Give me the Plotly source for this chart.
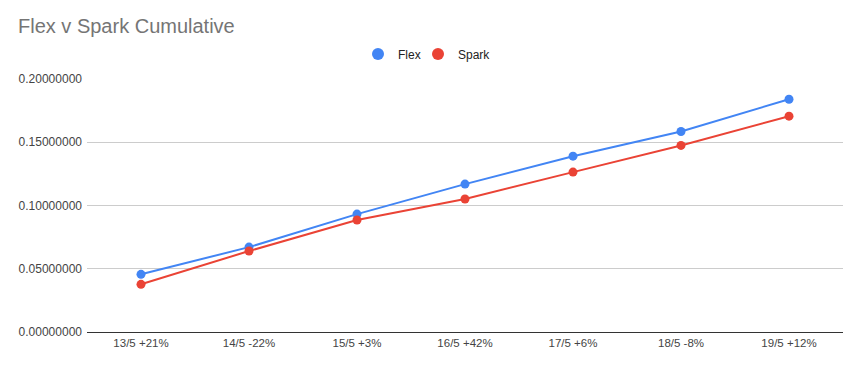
import plotly.graph_objects as go

categories = ["13/5 +21%", "14/5 -22%", "15/5 +3%", "16/5 +42%", "17/5 +6%", "18/5 -8%", "19/5 +12%"]
flex = [0.0456, 0.0671, 0.0932, 0.1169, 0.1390, 0.1585, 0.1840]
spark = [0.0377, 0.0640, 0.0885, 0.1051, 0.1264, 0.1475, 0.1706]

series = [("Flex", flex, "#4285F4", "legend"), ("Spark", spark, "#EA4335", "legend2")]

fig = go.Figure()
for name, vals, col, leg in series:
    fig.add_trace(go.Scatter(x=categories, y=vals, name=name, mode="lines+markers", legendgroup=name,
                             showlegend=False,
                             line=dict(color=col, width=2), marker=dict(size=9, color=col)))
    # legend entry (dot only)
    fig.add_trace(go.Scatter(x=[None], y=[None], name=name, mode="markers", legendgroup=name,
                             legend=leg, marker=dict(size=12, color=col)))

leg_common = dict(orientation="h", xref="container", xanchor="left",
                  yref="container", y=1 - 54/368, yanchor="middle",
                  font=dict(size=12, color="#222222"), bgcolor="rgba(0,0,0,0)")

fig.update_layout(
    width=862, height=368,
    margin=dict(l=87, r=19, t=79, b=36, autoexpand=False),
    paper_bgcolor="white", plot_bgcolor="white",
    font=dict(family="Arial, Liberation Sans, sans-serif", size=12, color="#444444"),
    title=dict(text="Flex v Spark Cumulative", x=18/862, xanchor="left", xref="container",
               y=1 - 26/368, yanchor="middle", yref="container", pad=dict(l=0, t=0, b=0, r=0),
               font=dict(size=20, color="#757575", family="Arial, Liberation Sans, sans-serif")),
    showlegend=True,
    legend=dict(x=358/862, **leg_common),
    legend2=dict(x=418/862, **leg_common),
    hovermode=False,
)
fig.update_xaxes(type="category", showgrid=False, showline=True, linecolor="#333333", linewidth=1,
                 ticks="", tickfont=dict(size=11.5, color="#444444"), zeroline=False,
                 range=[-0.5, len(categories) - 0.5])
fig.update_yaxes(range=[0, 0.2], dtick=0.05, tickformat=".8f", showgrid=True, gridcolor="#cccccc",
                 gridwidth=1, zeroline=False, showline=False, ticks="", ticklabelstandoff=4,
                 tickfont=dict(size=12, color="#444444"))

fig.write_html("out.html", config={"displayModeBar": False},
               post_script="document.body.style.margin='0';document.body.style.overflow='hidden';")
